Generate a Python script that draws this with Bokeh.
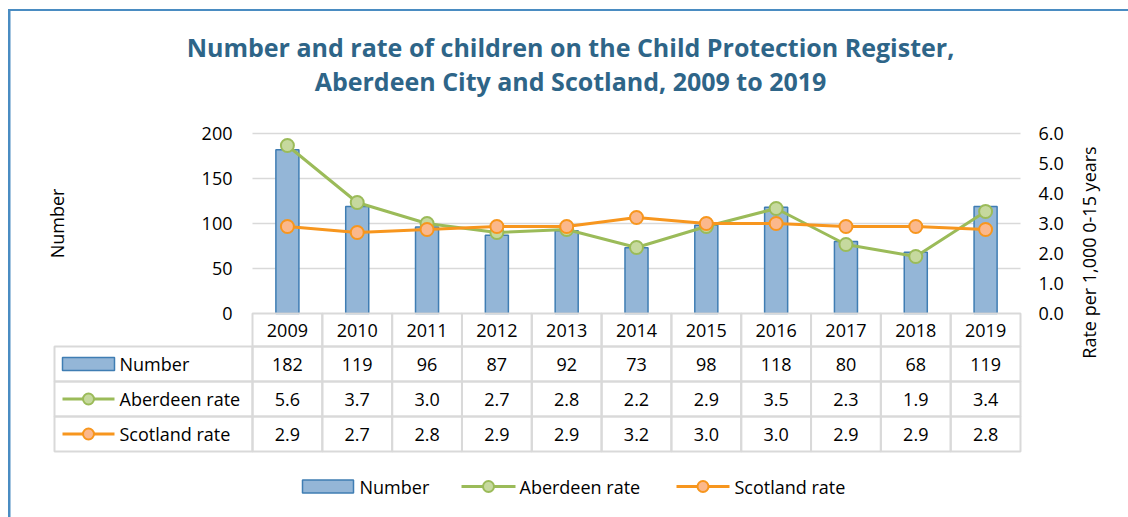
import numpy as np
from bokeh.plotting import figure
from bokeh.models import (Range1d, LinearAxis, FixedTicker, PrintfTickFormatter,
                          Label, Grid)
from bokeh.embed import file_html
from bokeh.resources import INLINE
from bokeh.core.properties import value

# ---------------- data ----------------
years = ["2009", "2010", "2011", "2012", "2013", "2014", "2015", "2016", "2017", "2018", "2019"]
number = [182, 119, 96, 87, 92, 73, 98, 118, 80, 68, 119]
aberdeen_rate = [5.6, 3.7, 3.0, 2.7, 2.8, 2.2, 2.9, 3.5, 2.3, 1.9, 3.4]
scotland_rate = [2.9, 2.7, 2.8, 2.9, 2.9, 3.2, 3.0, 3.0, 2.9, 2.9, 2.8]
number_ticks = [0, 50, 100, 150, 200]
rate_ticks = [0, 1, 2, 3, 4, 5, 6]
row_labels = ["Number", "Aberdeen rate", "Scotland rate"]
title_lines = ["Number and rate of children on the Child Protection Register,",
               "Aberdeen City and Scotland, 2009 to 2019"]
left_label = "Number"
right_label = "Rate per 1,000 0-15 years"

# ---------------- styles ----------------
BAR_FILL = "#94B6D7"
BAR_LINE = "#3F7DB3"
AB_LINE = "#9BBB59"
AB_FILL = "#C6D99E"
SC_LINE = "#F7961E"
SC_FILL = "#FBB88C"
GRID = "#D9D9D9"
TXT = "#000000"
TITLE = "#2E6588"
BORDER = "#4A8CC2"
FONT_NAME = "Open Sans"
FONT = value(FONT_NAME)
FS = "18px"

# ---------------- layout (canvas pixels) ----------------
W, H = 1128, 517
PL, PR = 252, 1020                    # plot region (bars) left/right
ZERO_Y, TOP_Y = 313, 133              # y of 0 and of top tick
n = len(years)
colw = (PR - PL) / n
x0 = -0.5 - PL / colw
x1 = -0.5 + (W - PL) / colw
ppu = (ZERO_Y - TOP_Y) / number_ticks[-1]
y1 = number_ticks[-1] + TOP_Y / ppu
y0 = -(H - ZERO_Y) / ppu
rscale = rate_ticks[-1] / number_ticks[-1]


def dx(px):
    return x0 + px / colw


def dy(py):
    return (ZERO_Y - py) / ppu


p = figure(width=W, height=H, x_range=Range1d(x0, x1), y_range=Range1d(y0, y1),
           output_backend="svg", toolbar_location=None,
           x_axis_location=None, y_axis_location=None,
           min_border_left=0, min_border_right=0,
           min_border_top=0, min_border_bottom=0,
           outline_line_color=None, background_fill_color="white",
           border_fill_color="white")
p.extra_y_ranges = {"rate": Range1d(y0 * rscale, y1 * rscale)}
p.grid.visible = False

# chart-area border (left and top edges)
p.quad(left=dx(7.5), right=dx(10), top=dy(8.5), bottom=dy(H + 5),
       fill_color=BORDER, line_color=None)
p.quad(left=dx(7.5), right=dx(W + 5), top=dy(8.5), bottom=dy(10.5),
       fill_color=BORDER, line_color=None)

# gridlines
p.add_layout(Grid(dimension=1, ticker=FixedTicker(ticks=number_ticks[1:]),
                  cross_bounds=(-0.5, n - 0.5), grid_line_color=GRID,
                  grid_line_width=1.5))

# axes
axis_style = dict(axis_line_color=None, major_tick_line_color=None,
                  minor_tick_line_color=None, major_label_text_font=FONT_NAME,
                  major_label_text_font_size=FS, major_label_text_color=TXT)
yax = LinearAxis(fixed_location=-0.5, ticker=FixedTicker(ticks=number_ticks),
                 major_label_standoff=14, **axis_style)
p.add_layout(yax, "left")

rax = LinearAxis(fixed_location=n - 0.5, y_range_name="rate",
                 ticker=FixedTicker(ticks=rate_ticks),
                 formatter=PrintfTickFormatter(format="%.1f"),
                 major_label_standoff=12, **axis_style)
p.add_layout(rax, "right")

xax = LinearAxis(fixed_location=0, ticker=FixedTicker(ticks=list(range(n))),
                 major_label_overrides={i: y for i, y in enumerate(years)},
                 major_label_standoff=4, **axis_style)
p.add_layout(xax, "below")

idx = np.arange(n)

# bars
p.vbar(x=idx, top=number, bottom=0, width=0.33, fill_color=BAR_FILL,
       line_color=BAR_LINE, line_width=1.5)

# lines
p.line(idx, aberdeen_rate, y_range_name="rate", line_color=AB_LINE, line_width=3)
p.scatter(idx, aberdeen_rate, y_range_name="rate", size=13, fill_color=AB_FILL,
          line_color=AB_LINE, line_width=2)
p.line(idx, scotland_rate, y_range_name="rate", line_color=SC_LINE, line_width=3)
p.scatter(idx, scotland_rate, y_range_name="rate", size=13, fill_color=SC_FILL,
          line_color=SC_LINE, line_width=2)

# ---------------- data table ----------------
rows_py = [313, 346, 381, 416, 451]
TL = 54
p.quad(left=idx - 0.5, right=idx + 0.5, top=dy(rows_py[0]), bottom=dy(rows_py[1]),
       fill_color=None, line_color=GRID, line_width=2)
for r in range(3):
    top, bot = dy(rows_py[r + 1]), dy(rows_py[r + 2])
    p.quad(left=np.r_[dx(TL), idx - 0.5], right=np.r_[-0.5, idx + 0.5],
           top=top, bottom=bot, fill_color=None, line_color=GRID, line_width=2)

row_vals = [[str(v) for v in number],
            [f"{v:.1f}" for v in aberdeen_rate],
            [f"{v:.1f}" for v in scotland_rate]]
row_cy = [dy((rows_py[r + 1] + rows_py[r + 2]) / 2) for r in range(3)]
for r in range(3):
    p.text(x=idx, y=[row_cy[r]] * n, text=row_vals[r], text_align="center",
           text_baseline="middle", text_font=FONT, text_font_size=FS,
           text_color=TXT)

p.text(x=[dx(119)] * 3, y=row_cy, text=row_labels, text_align="left",
       text_baseline="middle", text_font=FONT, text_font_size=FS, text_color=TXT)


def key_bar(xl, xr, yc):
    p.quad(left=dx(xl), right=dx(xr), top=yc + 6.5 / ppu, bottom=yc - 6.5 / ppu,
           fill_color=BAR_FILL, line_color=BAR_LINE, line_width=1.5)


def key_line(xl, xr, yc, lc, fc):
    p.segment(x0=dx(xl), x1=dx(xr), y0=yc, y1=yc, line_color=lc, line_width=3)
    p.scatter(x=[dx((xl + xr) / 2)], y=[yc], size=11, fill_color=fc,
              line_color=lc, line_width=2)


key_bar(62, 114, row_cy[0])
key_line(62, 114, row_cy[1], AB_LINE, AB_FILL)
key_line(62, 114, row_cy[2], SC_LINE, SC_FILL)

# ---------------- bottom legend ----------------
ly = dy(486)
key_bar(302, 353, ly)
key_line(461, 515, ly, AB_LINE, AB_FILL)
key_line(676, 729, ly, SC_LINE, SC_FILL)
p.text(x=[dx(359), dx(519), dx(734)], y=[ly] * 3, text=row_labels,
       text_align="left", text_baseline="middle", text_font=FONT,
       text_font_size=FS, text_color=TXT)

# ---------------- titles & axis labels ----------------
for txt, py in zip(title_lines, [46, 80]):
    p.add_layout(Label(x=dx(570), y=dy(py), text=txt, text_align="center",
                       text_baseline="middle", text_font=FONT_NAME,
                       text_font_style="bold", text_font_size="25px",
                       text_color=TITLE))

p.add_layout(Label(x=dx(56), y=dy(223), text=left_label, angle=90, angle_units="deg",
                   text_align="center", text_baseline="middle", text_font=FONT_NAME,
                   text_font_size=FS, text_color=TXT))
p.add_layout(Label(x=dx(1088), y=dy(252), text=right_label, angle=90, angle_units="deg",
                   text_align="center", text_baseline="middle", text_font=FONT_NAME,
                   text_font_size=FS, text_color=TXT))

open("out.html", "w").write(file_html(p, INLINE))
